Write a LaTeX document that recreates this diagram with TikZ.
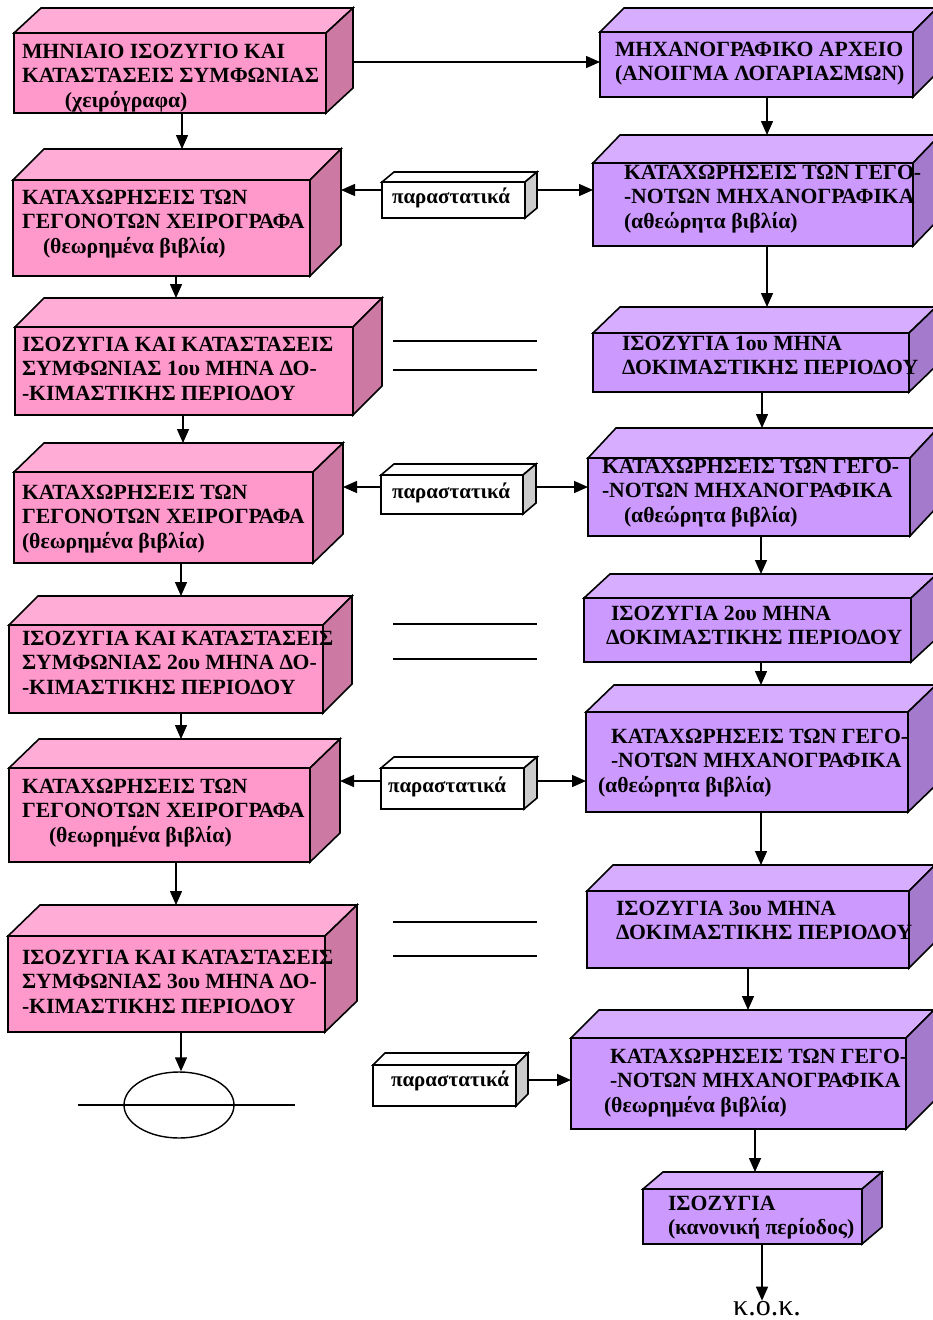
\documentclass[tikz,border=0pt]{standalone}
\usepackage{fontspec}
\setmainfont{Liberation Serif}
\usetikzlibrary{arrows.meta,shapes.geometric,fit}

\definecolor{pkF}{HTML}{FF99CC}
\definecolor{pkT}{HTML}{FFADD6}
\definecolor{pkS}{HTML}{CC7AA3}
\definecolor{vlF}{HTML}{CC99FF}
\definecolor{vlT}{HTML}{D6ADFF}
\definecolor{vlS}{HTML}{A37ACC}
\definecolor{whF}{HTML}{FFFFFF}
\definecolor{whT}{HTML}{FFFFFF}
\definecolor{whS}{HTML}{CCCCCC}

\tikzset{
  face/.style={draw=black, line width=1.6pt, line join=miter},
  % multi-line labels: the base anchor sits on the last line's baseline
  txt/.style={anchor=base west, align=left, inner sep=0pt, outer sep=0pt,
    font=\bfseries\fontsize{21.7}{24.5}\selectfont},
  doc/.style={txt, font=\bfseries\fontsize{21}{24}\selectfont},
  arr/.style={line width=1.4pt, -{Triangle[length=14pt,width=12pt]}},
  rule/.style={line width=1.4pt},
}

% \cube[scheme]{name}{x1}{y1}{x2}{y2}{depth offset}
% front face from (x1,y1) to (x2,y2); top and side faces pushed back by the offset
\newcommand\cube[7][pk]{%
  \coordinate (#2-a) at (#3,#4);
  \coordinate (#2-b) at (#5,#6);
  \node[fit=(#2-a)(#2-b), inner sep=0pt, outer sep=0pt, face, fill=#1F] (#2) {};
  \filldraw[face, fill=#1T] (#2.north west) -- ++(#7)
     -- ([shift={(#7)}]#2.north east) -- (#2.north east) -- cycle;
  \filldraw[face, fill=#1S] (#2.north east) -- ++(#7)
     -- ([shift={(#7)}]#2.south east) -- (#2.south east) -- cycle;
  \coordinate (#2-bt) at ([shift={(#7)}]#2.north west);
  \coordinate (#2-br) at ([shift={(#7)}]#2.north east);
}

\begin{document}
\begin{tikzpicture}[x=1pt, y=-1pt]
\clip (0,0) rectangle (933,1320);
\fill[white] (0,0) rectangle (933,1320);

% ---------- left column: manual books ----------
\cube{L1}{14}{33}{326}{113}{27,-25}
\cube{L2}{13}{180}{310}{276}{31,-31}
\cube{L3}{15}{327}{353}{415}{29,-29}
\cube{L4}{14}{472}{313}{563}{30,-29}
\cube{L5}{9}{625}{323}{713}{29,-29}
\cube{L6}{9}{768}{310}{862}{30,-29}
\cube{L7}{8}{936}{325}{1032}{32,-31}

\node[txt] (L1t) at (22,107) {ΜΗΝΙΑΙΟ ΙΣΟΖΥΓΙΟ ΚΑΙ\\ΚΑΤΑΣΤΑΣΕΙΣ ΣΥΜΦΩΝΙΑΣ\\\hspace*{43pt}(χειρόγραφα)};
\node[txt] (L2t) at (22,253) {ΚΑΤΑΧΩΡΗΣΕΙΣ ΤΩΝ\\ΓΕΓΟΝΟΤΩΝ ΧΕΙΡΟΓΡΑΦΑ\\\hspace*{21pt}(θεωρημένα βιβλία)};
\node[txt] (L3t) at (22,400) {ΙΣΟΖΥΓΙΑ ΚΑΙ ΚΑΤΑΣΤΑΣΕΙΣ\\ΣΥΜΦΩΝΙΑΣ 1ου ΜΗΝΑ ΔΟ-\\-ΚΙΜΑΣΤΙΚΗΣ ΠΕΡΙΟΔΟΥ};
\node[txt] (L4t) at (22,548) {ΚΑΤΑΧΩΡΗΣΕΙΣ ΤΩΝ\\ΓΕΓΟΝΟΤΩΝ ΧΕΙΡΟΓΡΑΦΑ\\(θεωρημένα βιβλία)};
\node[txt] (L5t) at (22,694) {ΙΣΟΖΥΓΙΑ ΚΑΙ ΚΑΤΑΣΤΑΣΕΙΣ\\ΣΥΜΦΩΝΙΑΣ 2ου ΜΗΝΑ ΔΟ-\\-ΚΙΜΑΣΤΙΚΗΣ ΠΕΡΙΟΔΟΥ};
\node[txt] (L6t) at (22,842) {ΚΑΤΑΧΩΡΗΣΕΙΣ ΤΩΝ\\ΓΕΓΟΝΟΤΩΝ ΧΕΙΡΟΓΡΑΦΑ\\\hspace*{27pt}(θεωρημένα βιβλία)};
\node[txt] (L7t) at (22,1013) {ΙΣΟΖΥΓΙΑ ΚΑΙ ΚΑΤΑΣΤΑΣΕΙΣ\\ΣΥΜΦΩΝΙΑΣ 3ου ΜΗΝΑ ΔΟ-\\-ΚΙΜΑΣΤΙΚΗΣ ΠΕΡΙΟΔΟΥ};

\node[draw, line width=1.4pt, ellipse, minimum width=110pt, minimum height=66pt, inner sep=0pt] (E) at (179,1105) {};
\draw[rule] ([xshift=-45pt]E.west) -- ([xshift=60pt]E.east);

% ---------- right column: computerised books ----------
\cube[vl]{R1}{600}{32}{913}{97}{24,-24}
\cube[vl]{R2}{593}{163}{913}{246}{27,-28}
\cube[vl]{R3}{593}{333}{909}{392}{27,-26}
\cube[vl]{R4}{588}{458}{910}{536}{28,-30}
\cube[vl]{R5}{584}{598}{911}{662}{26,-24}
\cube[vl]{R6}{586}{712}{908}{812}{28,-27}
\cube[vl]{R7}{587}{891}{909}{968}{26,-26}
\cube[vl]{R8}{571}{1038}{906}{1129}{28,-28}
\cube[vl]{R9}{643}{1189}{862}{1244}{20,-17}

\node[txt] (R1t) at (615,80.5) {ΜΗΧΑΝΟΓΡΑΦΙΚΟ ΑΡΧΕΙΟ\\(ΑΝΟΙΓΜΑ ΛΟΓΑΡΙΑΣΜΩΝ)};
\node[txt] (R2t) at (624,228) {ΚΑΤΑΧΩΡΗΣΕΙΣ ΤΩΝ ΓΕΓΟ-\\-ΝΟΤΩΝ ΜΗΧΑΝΟΓΡΑΦΙΚΑ\\(αθεώρητα βιβλία)};
\node[txt] (R3t) at (622,374.5) {ΙΣΟΖΥΓΙΑ 1ου ΜΗΝΑ\\ΔΟΚΙΜΑΣΤΙΚΗΣ ΠΕΡΙΟΔΟΥ};
\node[txt] (R4t) at (602,522) {ΚΑΤΑΧΩΡΗΣΕΙΣ ΤΩΝ ΓΕΓΟ-\\-ΝΟΤΩΝ ΜΗΧΑΝΟΓΡΑΦΙΚΑ\\\hspace*{22pt}(αθεώρητα βιβλία)};
\node[txt] (R5t) at (606,644.5) {\hspace*{5pt}ΙΣΟΖΥΓΙΑ 2ου ΜΗΝΑ\\ΔΟΚΙΜΑΣΤΙΚΗΣ ΠΕΡΙΟΔΟΥ};
\node[txt] (R6t) at (598,792) {\hspace*{13pt}ΚΑΤΑΧΩΡΗΣΕΙΣ ΤΩΝ ΓΕΓΟ-\\\hspace*{13pt}-ΝΟΤΩΝ ΜΗΧΑΝΟΓΡΑΦΙΚΑ\\(αθεώρητα βιβλία)};
\node[txt] (R7t) at (616,939.5) {ΙΣΟΖΥΓΙΑ 3ου ΜΗΝΑ\\ΔΟΚΙΜΑΣΤΙΚΗΣ ΠΕΡΙΟΔΟΥ};
\node[txt] (R8t) at (604,1112) {\hspace*{6pt}ΚΑΤΑΧΩΡΗΣΕΙΣ ΤΩΝ ΓΕΓΟ-\\\hspace*{6pt}-ΝΟΤΩΝ ΜΗΧΑΝΟΓΡΑΦΙΚΑ\\(θεωρημένα βιβλία)};
\node[txt] (R9t) at (668,1234.5) {ΙΣΟΖΥΓΙΑ\\(κανονική περίοδος)};

\node[anchor=base, inner sep=0pt, font=\fontsize{30}{32}\selectfont] (K) at (767,1315) {κ.ο.κ.};

% ---------- source documents ----------
\cube[wh]{P1}{382}{182}{525}{218}{12,-10}
\cube[wh]{P2}{381}{475}{523}{514}{13,-11}
\cube[wh]{P3}{381}{768}{524}{809}{13,-11}
\cube[wh]{P4}{373}{1065}{516}{1106}{12,-12}
\node[doc] (P1t) at (392,203) {παραστατικά};
\node[doc] (P2t) at (392,498) {παραστατικά};
\node[doc] (P3t) at (388,792) {παραστατικά};
\node[doc] (P4t) at (391,1086) {παραστατικά};

% ---------- flow arrows ----------
\draw[arr] (182,0 |- L1.south) -- (182,0 |- L2-bt);
\draw[arr] (176,0 |- L2.south) -- (176,0 |- L3-bt);
\draw[arr] (183,0 |- L3.south) -- (183,0 |- L4-bt);
\draw[arr] (181,0 |- L4.south) -- (181,0 |- L5-bt);
\draw[arr] (181,0 |- L5.south) -- (181,0 |- L6-bt);
\draw[arr] (176,0 |- L6.south) -- (176,0 |- L7-bt);
\draw[arr] (181,0 |- L7.south) -- (181,0 |- E.north);

\draw[arr] (767,0 |- R1.south) -- (767,0 |- R2-bt);
\draw[arr] (767,0 |- R2.south) -- (767,0 |- R3-bt);
\draw[arr] (762,0 |- R3.south) -- (762,0 |- R4-bt);
\draw[arr] (761,0 |- R4.south) -- (761,0 |- R5-bt);
\draw[arr] (761,0 |- R5.south) -- (761,0 |- R6-bt);
\draw[arr] (761,0 |- R6.south) -- (761,0 |- R7-bt);
\draw[arr] (748,0 |- R7.south) -- (748,0 |- R8-bt);
\draw[arr] (755,0 |- R8.south) -- (755,0 |- R9-bt);
\draw[arr] (762,0 |- R9.south) -- (762,0 |- K.north);

\draw[arr] (L1-br |- 0,62) -- (R1.west |- 0,62);
\draw[arr] (P1.west |- 0,190) -- (L2-br |- 0,190);
\draw[arr] (P1-br |- 0,190) -- (R2.west |- 0,190);
\draw[arr] (P2.west |- 0,487) -- (L4-br |- 0,487);
\draw[arr] (P2-br |- 0,487) -- (R4.west |- 0,487);
\draw[arr] (P3.west |- 0,781) -- (L6-br |- 0,781);
\draw[arr] (P3-br |- 0,781) -- (R6.west |- 0,781);
\draw[arr] (P4-br |- 0,1080) -- (R8.west |- 0,1080);

% ---------- reconciliation marks ----------
\draw[rule] (393,341) -- (537,341);
\draw[rule] (393,370) -- (537,370);
\draw[rule] (393,624) -- (537,624);
\draw[rule] (393,659) -- (537,659);
\draw[rule] (393,922) -- (537,922);
\draw[rule] (393,956) -- (537,956);
\end{tikzpicture}
\end{document}
